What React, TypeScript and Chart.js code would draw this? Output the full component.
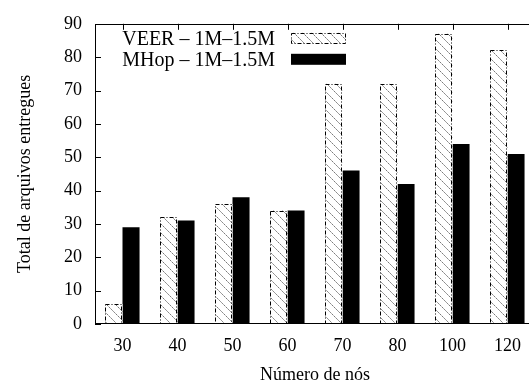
import React, { useEffect, useRef } from "react";
import { Chart, registerables } from "chart.js";

Chart.register(...registerables);

const categories = ["30", "40", "50", "60", "70", "80", "100", "120"];
const veerValues = [6, 32, 36, 34, 72, 72, 87, 82];
const mhopValues = [29, 31, 38, 34, 46, 42, 54, 51];
const seriesLabels = ["VEER – 1M–1.5M", "MHop – 1M–1.5M"];
const yMin = 0;
const yMax = 90;
const yStep = 10;
const xTitle = "Número de nós";
const yTitle = "Total de arquivos entregues";

const FONT = "'Liberation Serif', 'Times New Roman', Times, serif";

function makeHatch(): CanvasPattern | string {
  const c = document.createElement("canvas");
  const w = 9;
  const h = 9;
  c.width = w;
  c.height = h;
  const g = c.getContext("2d");
  if (!g) return "#ccc";
  g.fillStyle = "#ffffff";
  g.fillRect(0, 0, w, h);
  g.strokeStyle = "#6a6a6a";
  g.lineWidth = 1;
  g.setLineDash([2, 1]);
  for (const off of [-w, 0, w]) {
    g.beginPath();
    g.moveTo(off - 1, -1);
    g.lineTo(off + w + 1, h + 1);
    g.stroke();
  }
  const p = g.createPattern(c, "repeat");
  return p || "#ccc";
}

function strokeDashedRect(ctx: CanvasRenderingContext2D, x: number, y: number, w: number, h: number) {
  ctx.save();
  ctx.strokeStyle = "#000";
  ctx.lineWidth = 1;
  ctx.setLineDash([4, 2, 1, 2]);
  ctx.strokeRect(Math.round(x) + 0.5, Math.round(y) + 0.5, Math.round(w) - 1, Math.round(h) - 1);
  ctx.restore();
}

export default function App() {
  const canvasRef = useRef<HTMLCanvasElement | null>(null);

  useEffect(() => {
    const canvas = canvasRef.current;
    if (!canvas) return;
    const hatch = makeHatch();

    const framePlugin = {
      id: "gnuplotFrame",
      afterDatasetsDraw(chart: any) {
        const ctx: CanvasRenderingContext2D = chart.ctx;
        const area = chart.chartArea;
        const meta0 = chart.getDatasetMeta(0);
        meta0.data.forEach((el: any) => {
          const p = el.getProps(["x", "y", "base", "width"], true);
          strokeDashedRect(ctx, p.x - p.width / 2, p.y, p.width, p.base - p.y);
        });
        ctx.save();
        ctx.strokeStyle = "#000";
        ctx.lineWidth = 1;
        ctx.setLineDash([]);
        ctx.strokeRect(Math.round(area.left) + 0.5, Math.round(area.top) + 0.5,
          Math.round(area.right - area.left), Math.round(area.bottom - area.top) - 1);
        const ys = chart.scales.y;
        const tl = 5;
        ctx.beginPath();
        ys.ticks.forEach((_t: any, i: number) => {
          const py = Math.round(ys.getPixelForTick(i)) + 0.5;
          ctx.moveTo(area.left, py);
          ctx.lineTo(area.left + tl + 1, py);
          ctx.moveTo(area.right, py);
          ctx.lineTo(area.right - tl, py);
        });
        const xs = chart.scales.x;
        xs.ticks.forEach((_t: any, i: number) => {
          const px = Math.round(xs.getPixelForTick(i)) + 0.5;
          ctx.moveTo(px, area.top);
          ctx.lineTo(px, area.top + tl + 1);
        });
        ctx.stroke();
        ctx.restore();

        ctx.save();
        ctx.font = `20px ${FONT}`;
        ctx.fillStyle = "#000";
        ctx.textAlign = "right";
        ctx.textBaseline = "middle";
        const textRight = area.left + 180;
        const boxX = area.left + 196;
        const boxW = 55;
        const boxH = 11;
        chart.data.datasets.forEach((ds: any, i: number) => {
          const boxY = area.top + 9 + i * 21;
          ctx.fillStyle = "#000";
          ctx.fillText(ds.label, textRight, boxY + boxH / 2 + 1);
          ctx.fillStyle = ds.backgroundColor;
          ctx.fillRect(boxX, boxY, boxW, boxH);
          if (i === 0) strokeDashedRect(ctx, boxX, boxY, boxW, boxH);
        });
        ctx.restore();
      },
    };

    const chart = new Chart(canvas, {
      type: "bar",
      data: {
        labels: categories,
        datasets: [
          {
            label: seriesLabels[0],
            data: veerValues,
            backgroundColor: hatch as any,
            borderWidth: 0,
            categoryPercentage: 0.62,
            barPercentage: 1.0,
          },
          {
            label: seriesLabels[1],
            data: mhopValues,
            backgroundColor: "#000000",
            borderWidth: 0,
            categoryPercentage: 0.62,
            barPercentage: 1.0,
          },
        ],
      },
      options: {
        responsive: false,
        animation: false,
        devicePixelRatio: 1,
        layout: { padding: { left: 0, right: 5, top: 14, bottom: 0 } },
        plugins: {
          legend: { display: false },
          tooltip: { enabled: false },
        },
        scales: {
          x: {
            type: "category",
            grid: { display: false, drawTicks: false },
            border: { display: false },
            ticks: {
              color: "#000",
              font: { family: FONT, size: 18 },
              padding: 11,
              maxRotation: 0,
              autoSkip: false,
            },
            title: {
              display: true,
              text: xTitle,
              color: "#000",
              font: { family: FONT, size: 18 },
              padding: { top: 4, bottom: 4 },
            },
            afterFit(scale: any) {
              scale.height = 66;
            },
          },
          y: {
            min: yMin,
            max: yMax,
            grid: { display: false, drawTicks: false },
            border: { display: false },
            ticks: {
              stepSize: yStep,
              color: "#000",
              font: { family: FONT, size: 18 },
              padding: 13,
            },
            title: {
              display: true,
              text: yTitle,
              color: "#000",
              font: { family: FONT, size: 18 },
              padding: { top: 14, bottom: 0 },
            },
            afterFit(scale: any) {
              scale.width = 95;
            },
          },
        },
      },
      plugins: [framePlugin],
    });

    return () => chart.destroy();
  }, []);

  return (
    <div
      style={{
        position: "fixed",
        left: 0,
        top: 0,
        width: 529,
        height: 390,
        overflow: "hidden",
        background: "#fff",
      }}
    >
      <canvas ref={canvasRef} width={540} height={390} style={{ display: "block" }} />
    </div>
  );
}
